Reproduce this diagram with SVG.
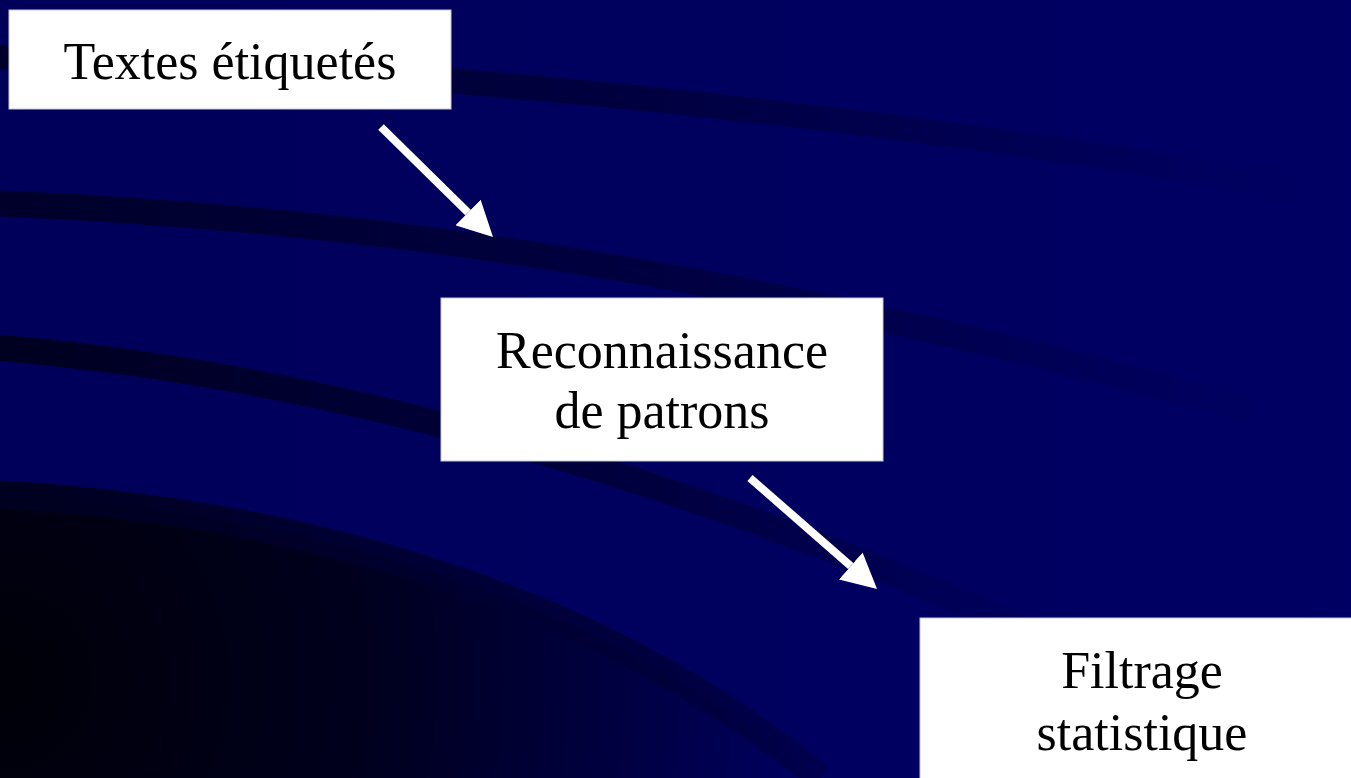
<svg xmlns="http://www.w3.org/2000/svg" width="1351" height="778" viewBox="0 0 1351 778">
  <style>
    .box { fill: #ffffff; stroke: #c8c8d0; stroke-width: 1; }
    .label { font-family: "Liberation Serif", "Times New Roman", serif; font-size: 52px; fill: #000000; text-anchor: middle; }
    .arrow { stroke: #ffffff; stroke-width: 8; fill: none; marker-end: url(#head); }
  </style>
  <defs>
    <marker id="head" viewBox="0 0 35 36" refX="0" refY="18" markerWidth="35" markerHeight="36" markerUnits="userSpaceOnUse" orient="auto">
      <polygon points="0,0 35,18 0,36" fill="#ffffff"/>
    </marker>
    <linearGradient id="bandFade" gradientUnits="userSpaceOnUse" x1="0" y1="0" x2="1320" y2="0">
      <stop offset="0" stop-color="#00002a" stop-opacity="1"/>
      <stop offset="0.5" stop-color="#00003a" stop-opacity="0.8"/>
      <stop offset="1" stop-color="#000040" stop-opacity="0"/>
    </linearGradient>
    <linearGradient id="bandFade3" gradientUnits="userSpaceOnUse" x1="0" y1="0" x2="1100" y2="0">
      <stop offset="0" stop-color="#000020" stop-opacity="1"/>
      <stop offset="0.6" stop-color="#000038" stop-opacity="0.8"/>
      <stop offset="1" stop-color="#000040" stop-opacity="0"/>
    </linearGradient>
    <radialGradient id="darkCorner" gradientUnits="userSpaceOnUse" cx="0" cy="680" r="820">
      <stop offset="0" stop-color="#000008"/>
      <stop offset="0.45" stop-color="#00001e"/>
      <stop offset="0.75" stop-color="#000040"/>
      <stop offset="1" stop-color="#000062"/>
    </radialGradient>
    <linearGradient id="bg" x1="0" y1="0" x2="1" y2="0">
      <stop offset="0" stop-color="#00005a"/>
      <stop offset="1" stop-color="#000064"/>
    </linearGradient>
  </defs>

  <g id="background">
    <rect x="0" y="0" width="1351" height="778" fill="url(#bg)"/>
    <path d="M -10 57 C 300 62 800 100 1320 192" stroke="url(#bandFade)" stroke-width="25" fill="none"/>
    <path d="M -10 203 C 300 215 700 258 1250 410" stroke="url(#bandFade)" stroke-width="26" fill="none"/>
    <path d="M -10 347 C 250 368 600 440 1050 640" stroke="url(#bandFade3)" stroke-width="26" fill="none"/>
    <path d="M -10 494 C 260 508 580 580 820 778 L -10 778 Z" fill="url(#darkCorner)"/>
    <path d="M -10 494 C 260 508 580 580 820 778" stroke="url(#bandFade3)" stroke-width="28" fill="none"/>
  </g>

  <g id="connectors">
    <path class="arrow" d="M 381 127 L 468 212.5"/>
    <path class="arrow" d="M 750 478 L 850.7 566"/>
  </g>

  <g id="node-textes">
    <rect class="box" x="9" y="10" width="442" height="99"/>
    <text class="label" x="230" y="79">Textes étiquetés</text>
  </g>

  <g id="node-reconnaissance">
    <rect class="box" x="441" y="298" width="442" height="163"/>
    <text class="label" x="662" y="368">Reconnaissance</text>
    <text class="label" x="662" y="428">de patrons</text>
  </g>

  <g id="node-filtrage">
    <rect class="box" x="920" y="618" width="440" height="170"/>
    <text class="label" x="1142" y="688">Filtrage</text>
    <text class="label" x="1142" y="750">statistique</text>
  </g>
</svg>
